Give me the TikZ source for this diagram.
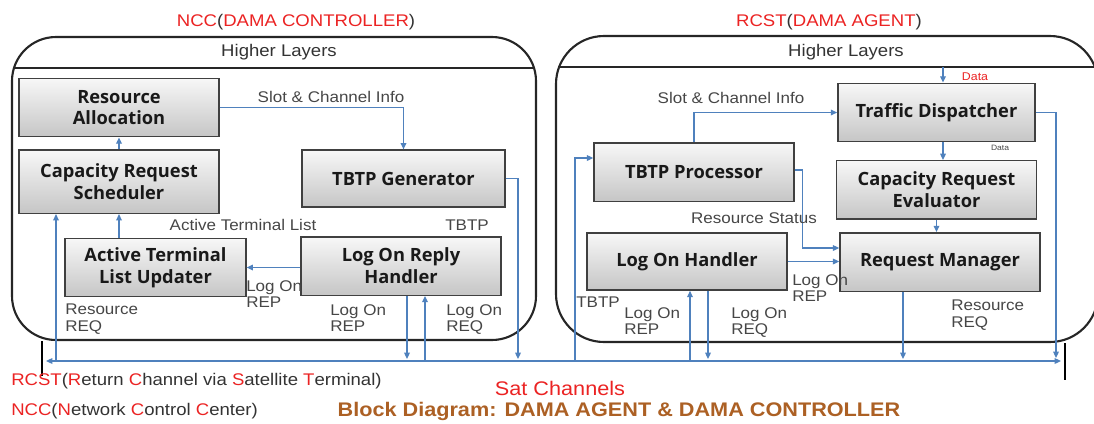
\documentclass[tikz,border=0pt]{standalone}
\usepackage{fontspec}
\setmainfont{Liberation Sans}[FakeStretch=1.1]
\newfontfamily\boxfont{Open Sans}
\usepackage{tikz}
\usetikzlibrary{positioning,arrows.meta,calc}
\definecolor{ncred}{RGB}{235,35,35}
\definecolor{linkblue}{RGB}{79,129,189}
\definecolor{lblgray}{RGB}{70,70,70}
\definecolor{capbrown}{RGB}{172,96,36}
\newcommand{\rd}[1]{\textcolor{ncred}{#1}}

\begin{document}
\begin{tikzpicture}[x=0.025cm,y=-0.025cm,>={Triangle[length=4.5pt,width=4pt]}]
  \tikzset{box/.style={draw=black!75,line width=1pt,top color=gray!6,bottom color=gray!45,
      minimum width=5cm,minimum height=1.46cm,align=center,text=black!90,
      font=\boxfont\bfseries\fontsize{13}{15.5}\selectfont},
    link/.style={draw=linkblue,line width=0.9pt,->},
    frame/.style={draw=black!85,line width=1.5pt},
    lbl/.style={text=lblgray,inner sep=0pt,font=\fontsize{11}{11.5}\selectfont},
    lbltwo/.style={lbl,anchor=north west,align=left},
    ttl/.style={text=black!80,font=\fontsize{12}{12}\selectfont}}%
  \useasboundingbox (0,0) rectangle (1094,423);
  \clip (0,0) rectangle (1094,423);
  % the two stations
  \draw[frame,rounded corners=1.1cm] (12,37) rectangle (536,340);
  \draw[frame] (14,68) -- (534,68);
  \draw[frame,rounded corners=1.2cm] (556,36) rectangle (1098,342);
  \draw[frame] (558,67) -- (1096,67);
  \node[ttl] (ncc) at (296,22) {\rd{NCC}(\rd{DAMA CONTROLLER})};
  \node[ttl] (rcst) at (829,22) {\rd{RCST}(\rd{DAMA AGENT})};
  \node[ttl] (hl1) at (279,52) {Higher Layers};
  \node[ttl] (hl2) at (846,52) {Higher Layers};

  % NCC side
  \node[box] (ra) at (119,107.5) {Resource\\Allocation};
  \node[box,minimum height=1.58cm,below=0.3cm of ra] (crs) {Capacity Request\\Scheduler};
  \node[box,minimum width=5.07cm,minimum height=1.42cm] (tg) at (403.5,178.5) {TBTP Generator};
  \node[box,minimum width=4.52cm] (atlu) at (155.5,267.5) {Active Terminal\\List Updater};
  \node[box] (lorh) at (401,266) {Log On Reply\\Handler};

  % RCST side
  \node[box,minimum width=4.93cm] (td) at (936.5,112.5) {Traffic Dispatcher};
  \node[box,below=0.44cm of td] (cre) {Capacity Request\\Evaluator};
  \node[box] (tp) at (694,172) {TBTP Processor};
  \node[box,minimum height=1.43cm] (loh) at (687,261.5) {Log On Handler};
  \node[box] (rm) at (940,262) {Request Manager};

  % satellite channels
  \coordinate (busL) at (46,361);
  \coordinate (busR) at (1061,361);
  \draw[link,<->] (busL) -- (busR);
  \draw[line width=1.6pt] (42,341) -- (42,376);
  \draw[line width=1.6pt] (1065,343) -- (1065,380);

  \draw[link] (ra.east) -| (tg.north);
  \draw[link] (crs.north) -- (ra.south);
  \draw[link] (atlu.north -| crs.north) -- (crs.south);
  \draw[link] (lorh.west |- atlu.east) -- (atlu.east);
  \coordinate (tgbus) at (518,359);
  \draw[link] (tg.east) -| (tgbus);
  \coordinate (rqbus) at (56,361);
  \draw[link] (rqbus) -- (rqbus |- crs.south);
  \coordinate (repbus) at (407,359);
  \draw[link] (repbus |- lorh.south) -- (repbus);
  \coordinate (reqbus) at (425,361);
  \draw[link] (reqbus) -- (reqbus |- lorh.south);

  \coordinate (datain) at (943,67);
  \draw[link] (datain) -- (datain |- td.north);
  \draw[link] (datain |- td.south) -- (datain |- cre.north);
  \draw[link] (tp.north) |- (td.west);
  \coordinate (tpbus) at (575,361);
  \draw[link] (tpbus) |- ($(tp.west)+(0,-14)$);
  \draw[link] ($(tp.east)+(0,-2)$) -- ++(8,0) |- ($(rm.west)+(0,-14)$);
  \draw[link] (loh.east) -- (loh.east -| rm.west);
  \draw[link] (cre.south) -- (cre.south |- rm.north);
  \coordinate (lonrep) at (690,361);
  \draw[link] (lonrep) -- (lonrep |- loh.south);
  \coordinate (lonreq) at (708,359);
  \draw[link] (lonreq |- loh.south) -- (lonreq);
  \coordinate (resreq) at (903,359);
  \draw[link] (resreq |- rm.south) -- (resreq);
  \coordinate (tdbus) at (1056,358);
  \draw[link] (td.east) -| (tdbus);

  % labels
  \node[lbl] (sci1) at (331,97) {Slot \& Channel Info};
  \node[lbl] (atl) at (243,225) {Active Terminal List};
  \node[lbl] (tbtp1) at (467,225) {TBTP};
  \node[lbltwo] (rep1) at (246,280) {Log On\\REP};
  \node[lbltwo] (rreq1) at (65,304) {Resource\\REQ};
  \node[lbltwo] (rep2) at (330,304) {Log On\\REP};
  \node[lbltwo] (req1) at (446,304) {Log On\\REQ};
  \node[lbl] (sci2) at (731,98) {Slot \& Channel Info};
  \node[lbl] (rst) at (754,218) {Resource Status};
  \node[lbl] (tbtp2) at (598,302) {TBTP};
  \node[lbltwo] (rep3) at (624,307) {Log On\\REP};
  \node[lbltwo] (req2) at (731,307) {Log On\\REQ};
  \node[lbltwo] (rep4) at (792,274) {Log On\\REP};
  \node[lbltwo] (rreq2) at (951,300) {Resource\\REQ};
  \node[inner sep=0pt,text=ncred,font=\fontsize{8}{8}\selectfont] (data1) at (975,77) {Data};
  \node[inner sep=0pt,text=lblgray,font=\fontsize{5.5}{6}\selectfont] (data2) at (1000,148) {Data};

  % legend and caption
  \node[anchor=west,inner sep=0pt,text=black!80,font=\fontsize{12}{12}\selectfont] (leg1) at (11,381)
    {\rd{RCST}(\rd{R}eturn \rd{C}hannel via \rd{S}atellite \rd{T}erminal)};
  \node[anchor=west,inner sep=0pt,text=black!80,font=\fontsize{12}{12}\selectfont] (leg2) at (11,411)
    {\rd{NCC}(\rd{N}etwork \rd{C}ontrol \rd{C}enter)};
  \node[text=ncred,font=\fontsize{14}{14}\selectfont] (sat) at (560,388) {Sat Channels};
  \node[text=capbrown,font=\bfseries\fontsize{14}{14}\selectfont] (cap) at (619,411)
    {Block Diagram: DAMA AGENT \& DAMA CONTROLLER};
\end{tikzpicture}
\end{document}
